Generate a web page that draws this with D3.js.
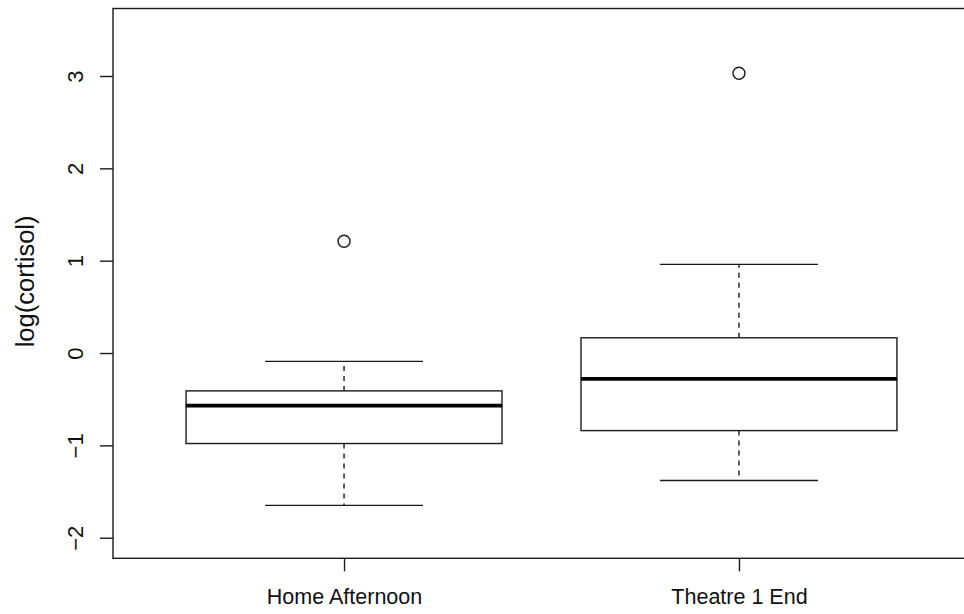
<!DOCTYPE html>
<html>
<head>
<meta charset="utf-8">
<script src="https://cdn.jsdelivr.net/npm/d3@7"></script>
<style>
  body { margin: 0; background: #fff; }
  svg text { font-family: "Liberation Sans", Arial, sans-serif; fill: #111; }
</style>
</head>
<body>
<div id="chart"></div>
<script>
// values
const categories = ["Home Afternoon", "Theatre 1 End"];
const lowerWhisker = [-1.65, -1.38];
const q1 = [-0.98, -0.84];
const median = [-0.57, -0.28];
const q3 = [-0.41, 0.165];
const upperWhisker = [-0.09, 0.96];
const outliers = [[1.21], [3.03]];
const yTicks = [-2, -1, 0, 1, 2, 3];

const width = 964, height = 614;
const frame = {left: 113, right: 970, top: 8.5, bottom: 558.3};

const svg = d3.select("#chart").append("svg")
    .attr("width", width)
    .attr("height", height);

// x positions 1..n like R's boxplot
const x = d3.scaleLinear()
    .domain([0.415, 2.585])
    .range([frame.left, frame.right]);

const y = d3.scaleLinear()
    .domain([-2.223, 3.731])
    .range([frame.bottom, frame.top]);

const boxwex = 0.8, staple = 0.4;
const ink = "#1a1a1a";
const lw = 1.4;

let data = categories.map((c, i) => ({
    name: c, pos: i + 1,
    lo: lowerWhisker[i], q1: q1[i], med: median[i], q3: q3[i], hi: upperWhisker[i],
    out: outliers[i]
}));

// plot frame
svg.append("rect")
    .attr("x", frame.left).attr("y", frame.top)
    .attr("width", frame.right - frame.left)
    .attr("height", frame.bottom - frame.top)
    .attr("fill", "none").attr("stroke", ink).attr("stroke-width", lw);

let g = svg.selectAll(".box").data(data).join("g").attr("class", "box");

// dashed whiskers
g.append("line")
    .attr("x1", d => x(d.pos)).attr("x2", d => x(d.pos))
    .attr("y1", d => y(d.q3)).attr("y2", d => y(d.hi))
    .attr("stroke", ink).attr("stroke-width", lw).attr("stroke-dasharray", "5,5");
g.append("line")
    .attr("x1", d => x(d.pos)).attr("x2", d => x(d.pos))
    .attr("y1", d => y(d.q1)).attr("y2", d => y(d.lo))
    .attr("stroke", ink).attr("stroke-width", lw).attr("stroke-dasharray", "5,5");

// staples
["lo", "hi"].forEach(k => {
    g.append("line")
        .attr("x1", d => x(d.pos - staple / 2)).attr("x2", d => x(d.pos + staple / 2))
        .attr("y1", d => y(d[k])).attr("y2", d => y(d[k]))
        .attr("stroke", ink).attr("stroke-width", lw);
});

// box
g.append("rect")
    .attr("x", d => x(d.pos - boxwex / 2))
    .attr("width", d => x(d.pos + boxwex / 2) - x(d.pos - boxwex / 2))
    .attr("y", d => y(d.q3))
    .attr("height", d => y(d.q1) - y(d.q3))
    .attr("fill", "none").attr("stroke", ink).attr("stroke-width", lw);

// median
g.append("line")
    .attr("x1", d => x(d.pos - boxwex / 2)).attr("x2", d => x(d.pos + boxwex / 2))
    .attr("y1", d => y(d.med)).attr("y2", d => y(d.med))
    .attr("stroke", "#000").attr("stroke-width", 3.8);

// outliers
g.selectAll("circle").data(d => d.out.map(v => ({pos: d.pos, v: v}))).join("circle")
    .attr("cx", d => x(d.pos)).attr("cy", d => y(d.v))
    .attr("r", 6)
    .attr("fill", "none").attr("stroke", ink).attr("stroke-width", lw);

// y axis
let yAxis = svg.append("g")
    .attr("transform", `translate(${frame.left},0)`)
    .call(d3.axisLeft(y).tickValues(yTicks).tickSize(13).tickFormat(d => d < 0 ? "\u2212" + Math.abs(d) : d));
yAxis.select(".domain").remove();
yAxis.selectAll(".tick line").attr("stroke", ink).attr("stroke-width", lw);
yAxis.selectAll(".tick text")
    .attr("x", null).attr("dy", null)
    .attr("transform", "translate(-30,0) rotate(-90)")
    .attr("text-anchor", "middle")
    .attr("font-size", 22);

// x axis
let xAxis = svg.append("g")
    .attr("transform", `translate(0,${frame.bottom})`)
    .call(d3.axisBottom(x).tickValues([1, 2]).tickSize(13).tickFormat(d => categories[d - 1]));
xAxis.select(".domain").remove();
xAxis.selectAll(".tick line").attr("stroke", ink).attr("stroke-width", lw);
xAxis.selectAll(".tick text")
    .attr("y", 46).attr("dy", null)
    .attr("font-size", 21.5);

// y title
svg.append("text")
    .attr("transform", `translate(34,${(frame.top + frame.bottom) / 2 - 2}) rotate(-90)`)
    .attr("text-anchor", "middle")
    .attr("font-size", 25.5)
    .text("log(cortisol)");
</script>
</body>
</html>
